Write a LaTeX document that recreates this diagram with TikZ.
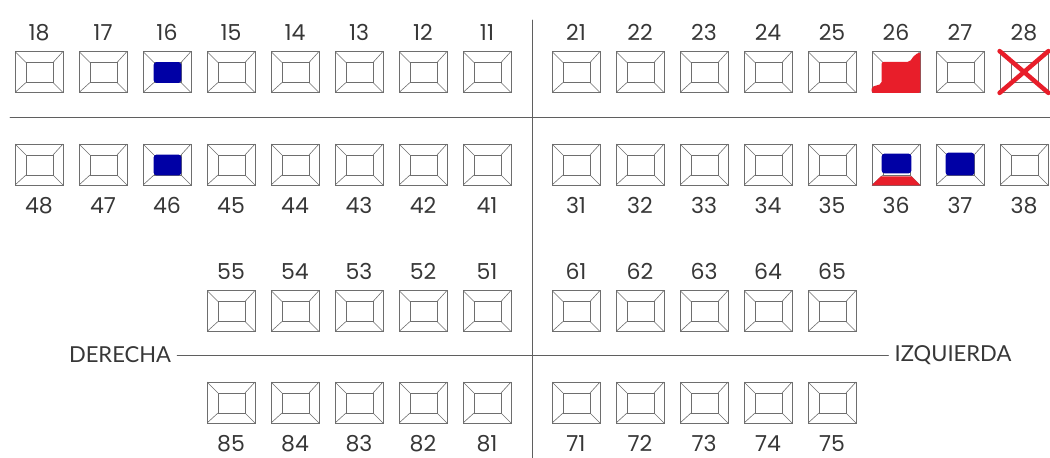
\documentclass[tikz,border=0pt]{standalone}
\usepackage{fontspec}
\setmainfont{Poppins}
\newfontfamily\wordfont{Lato}
\usetikzlibrary{positioning,calc}
\definecolor{seatgray}{RGB}{110,110,110}
\definecolor{rulegray}{RGB}{95,95,95}
\definecolor{inkgray}{RGB}{55,55,55}
\definecolor{takenblue}{RGB}{0,0,165}
\definecolor{takenred}{RGB}{232,30,42}
\tikzset{
  seat/.style={draw=seatgray,line width=0.8pt,minimum width=48pt,minimum height=41pt,inner sep=0pt,
    path picture={
      \coordinate (p1) at (path picture bounding box.south west);
      \coordinate (p2) at (path picture bounding box.south east);
      \coordinate (p3) at (path picture bounding box.north east);
      \coordinate (p4) at (path picture bounding box.north west);
      \coordinate (q1) at ([xshift=11pt,yshift=10pt]p1);
      \coordinate (q2) at ([xshift=-10pt,yshift=10pt]p2);
      \coordinate (q3) at ([xshift=-10pt,yshift=-11pt]p3);
      \coordinate (q4) at ([xshift=11pt,yshift=-11pt]p4);
      \draw[seatgray,line width=0.7pt] (q1) rectangle (q3);
      \draw[seatgray,line width=0.6pt] (p1) -- (q1) (p2) -- (q2) (p3) -- (q3) (p4) -- (q4);
    }},
  num/.style={text=inkgray,font=\fontsize{22}{25}\selectfont,inner sep=0pt},
  side/.style={text=inkgray,font=\wordfont\fontsize{22}{26}\selectfont,inner sep=6pt},
  rule/.style={rulegray,line width=0.8pt},
  blueseat/.style={fill=takenblue,rounded corners=3pt},
  redseat/.style={fill=takenred,rounded corners=2pt}
}
\begin{document}
\begin{tikzpicture}[x=1pt,y=1pt,line cap=round]
\useasboundingbox (0,0) rectangle (1050,458);
% dividers
\draw[rule] (10,341) -- (1050,341);
\draw[rule] (532,438) -- (532,0);
% upper rows (8 per side)
\foreach \i in {0,...,7}{
  \pgfmathtruncatemacro\a{18-\i}
  \pgfmathtruncatemacro\b{21+\i}
  \pgfmathtruncatemacro\c{48-\i}
  \pgfmathtruncatemacro\d{31+\i}
  \node[seat] (s\a) at ({39+64*\i},386) {};
  \node[num,above=10pt of s\a] {\a};
  \node[seat] (s\b) at ({576+64*\i},386) {};
  \node[num,above=10pt of s\b] {\b};
  \node[seat] (s\c) at ({39+64*\i},293.5) {};
  \node[num,below=12pt of s\c] {\c};
  \node[seat] (s\d) at ({576+64*\i},293.5) {};
  \node[num,below=12pt of s\d] {\d};
}
% lower rows (5 per side)
\foreach \i in {0,...,4}{
  \pgfmathtruncatemacro\a{55-\i}
  \pgfmathtruncatemacro\b{61+\i}
  \pgfmathtruncatemacro\c{85-\i}
  \pgfmathtruncatemacro\d{71+\i}
  \node[seat] (s\a) at ({231+64*\i},147) {};
  \node[num,above=10pt of s\a] {\a};
  \node[seat] (s\b) at ({576+64*\i},147) {};
  \node[num,above=10pt of s\b] {\b};
  \node[seat] (s\c) at ({231+64*\i},55.5) {};
  \node[num,below=12pt of s\c] {\c};
  \node[seat] (s\d) at ({576+64*\i},55.5) {};
  \node[num,below=12pt of s\d] {\d};
}
% sides
\node[side] (der) at (120,103) {DERECHA};
\node[side] (izq) at (953,103) {IZQUIERDA};
\draw[rule] (der.east) -- (izq.west);
% marks
\fill[blueseat] ([xshift=11pt,yshift=10pt]s16.south west) rectangle ([xshift=-10pt,yshift=-11pt]s16.north east);
\fill[blueseat] ([xshift=11pt,yshift=10pt]s46.south west) rectangle ([xshift=-10pt,yshift=-11pt]s46.north east);
\fill[blueseat] ([xshift=10pt,yshift=10pt]s37.south west) rectangle ([xshift=-10pt,yshift=-9pt]s37.north east);
\fill[blueseat] ([xshift=10pt,yshift=12pt]s36.south west) rectangle ([xshift=-9pt,yshift=-10pt]s36.north east);
\fill[takenred] (s36.south west) -- (s36.south east) -- ++(-9,9) -- ([xshift=9pt,yshift=9pt]s36.south west) -- cycle;
\fill[redseat] (s26.south west) -- ++(0,6) -- ++(10,3) -- ++(0,22) -- ++(28,0) -- ++(5,7) -- ([yshift=-1pt]s26.north east) -- (s26.south east) -- cycle;
\draw[takenred,line width=4.5pt] (s28.south west) -- (s28.north east) (s28.north west) -- (s28.south east);
\end{tikzpicture}
\end{document}
